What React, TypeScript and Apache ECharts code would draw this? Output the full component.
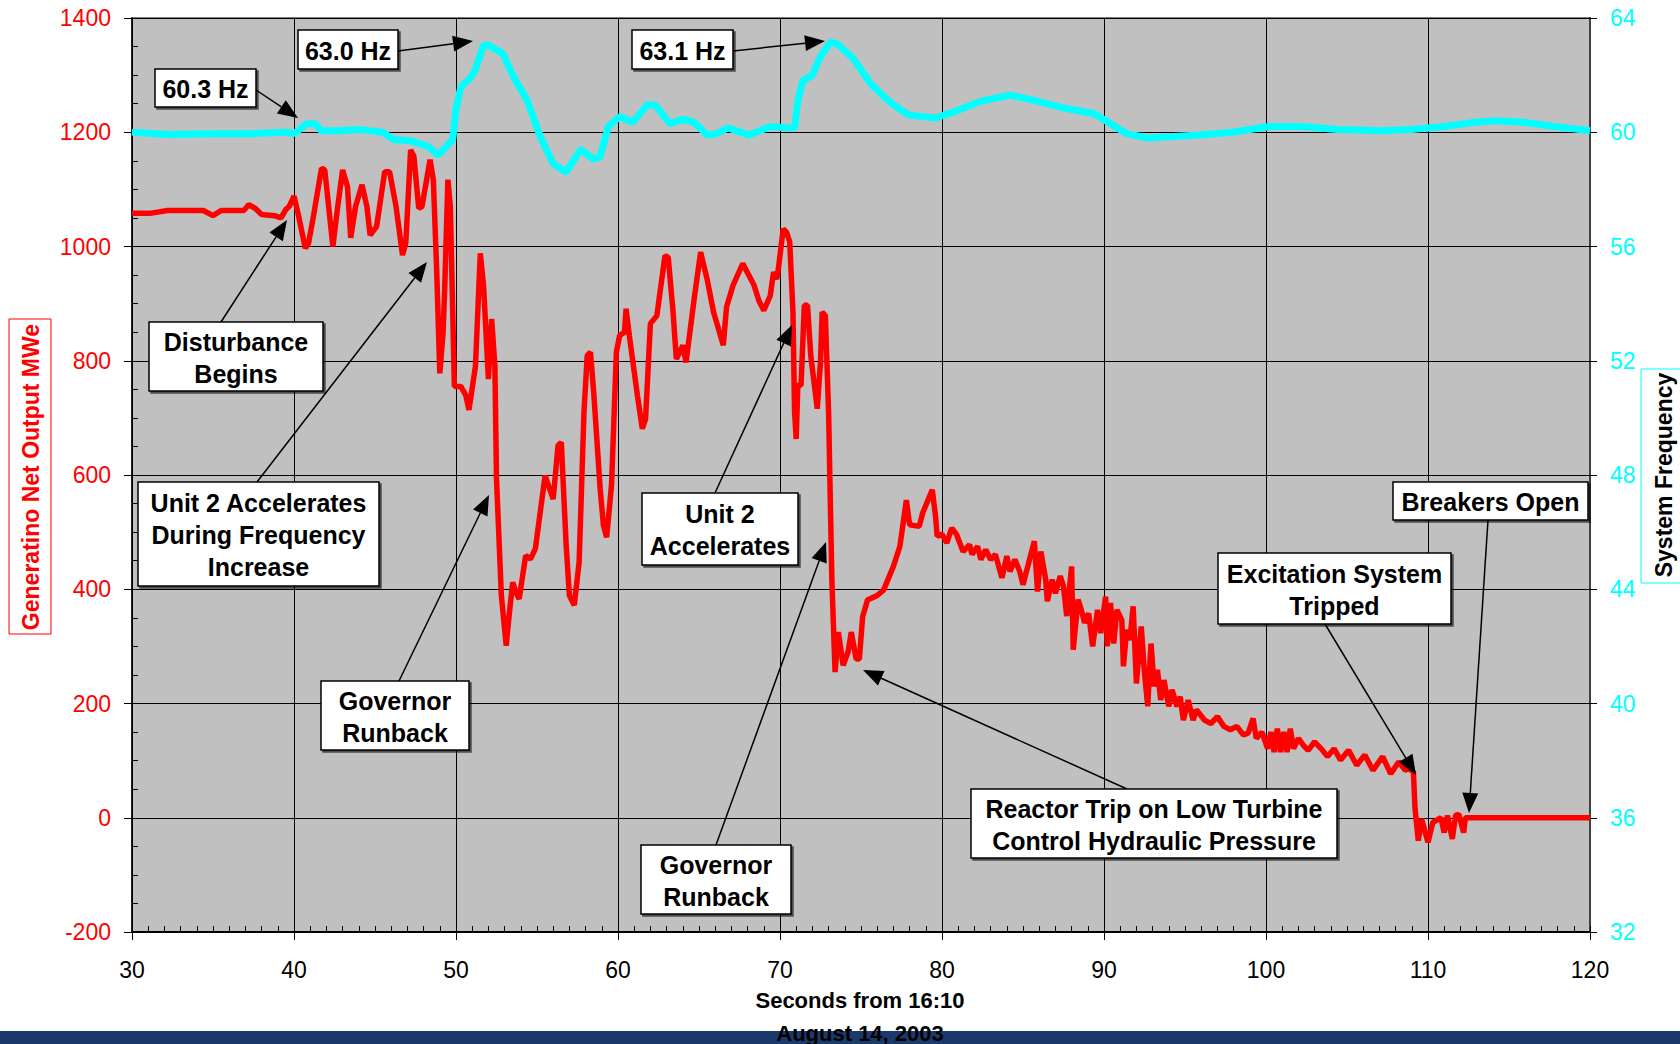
import React, { useEffect, useRef } from "react";
import * as echarts from "echarts";

// ---------- data ----------
// Generator net output, MWe : [seconds from 16:10, MWe]
const outputBeforeSwing: [number, number][] = [
  [30.0, 1058], [31.1, 1058], [32.2, 1063], [34.4, 1063], [35.0, 1054], [35.5, 1063], [36.9, 1063],
  [37.2, 1073], [37.6, 1067], [38.0, 1056], [38.8, 1054], [39.2, 1050], [39.5, 1065], [39.7, 1070],
  [40.0, 1088], [40.25, 1058], [40.7, 997], [40.9, 1006], [41.2, 1053], [41.7, 1137], [41.9, 1134],
  [42.4, 1000], [42.7, 1070], [43.0, 1134], [43.3, 1105], [43.5, 1015], [43.8, 1070], [44.2, 1108],
  [44.5, 1070], [44.7, 1020], [45.1, 1035], [45.6, 1131], [45.9, 1131], [46.3, 1070], [46.7, 985],
  [46.9, 1006], [47.2, 1169], [47.4, 1158], [47.7, 1067], [47.9, 1070], [48.4, 1152], [48.6, 1117],
  [48.8, 965], [49.0, 778], [49.2, 848], [49.3, 924], [49.5, 1117], [49.65, 1070], [49.8, 883],
  [49.9, 755], [50.3, 755], [50.6, 740], [50.8, 714], [51.2, 790], [51.5, 988], [51.7, 932],
  [52.0, 768], [52.2, 873], [52.4, 792],
];
const outputSwing: [number, number][] = [
  [52.5, 593], [52.8, 389], [53.1, 301], [53.3, 360], [53.5, 412], [53.7, 395], [53.9, 383],
  [54.3, 459], [54.6, 453], [54.9, 471], [55.2, 535], [55.5, 599], [55.7, 582], [56.0, 558],
  [56.3, 652], [56.5, 657], [56.8, 477], [57.0, 389], [57.3, 372], [57.6, 447], [57.9, 710],
  [58.1, 809], [58.3, 815], [58.5, 745], [58.9, 576], [59.1, 512], [59.3, 491], [59.6, 582],
  [59.9, 815], [60.1, 844], [60.4, 850], [60.5, 891], [60.7, 844], [61.2, 739], [61.5, 681],
  [61.7, 698], [62.0, 865], [62.4, 879], [62.9, 984], [63.1, 981], [63.4, 885], [63.6, 803],
  [64.0, 827], [64.2, 797], [64.7, 908], [65.1, 990], [65.5, 943], [65.9, 885], [66.5, 827],
  [66.7, 894], [67.1, 932], [67.7, 970], [68.4, 932], [68.7, 905], [69.0, 888], [69.4, 914],
  [69.6, 955], [69.8, 943], [69.9, 961], [70.2, 1031], [70.4, 1025], [70.6, 1008], [70.8, 885],
  [70.9, 710], [71.0, 663], [71.1, 757], [71.3, 757], [71.5, 897], [71.7, 897], [71.9, 809],
  [72.3, 716], [72.5, 798], [72.6, 885], [72.8, 879], [73.0, 710],
];
const outputAfterTrip: [number, number][] = [
  [73.2, 418], [73.3, 336], [73.4, 255], [73.6, 325], [73.9, 267], [74.2, 290], [74.4, 325],
  [74.7, 278], [74.9, 278], [75.1, 352], [75.4, 381], [76.0, 389], [76.4, 399], [77.0, 440],
  [77.4, 475], [77.8, 556], [78.0, 513], [78.6, 510], [78.8, 533], [79.4, 574], [79.6, 528],
  [79.7, 493], [80.0, 496], [80.3, 481], [80.6, 507], [80.9, 496], [81.3, 466], [81.7, 478],
  [81.85, 461], [82.2, 475], [82.4, 452], [82.7, 469], [83.0, 452], [83.3, 461], [83.5, 440],
  [83.7, 420], [84.0, 458], [84.2, 431], [84.5, 452], [84.8, 431], [85.0, 408], [85.35, 446],
  [85.7, 484], [85.9, 396], [86.1, 466], [86.4, 417], [86.5, 379], [86.8, 417], [87.0, 393],
  [87.3, 423], [87.5, 405], [87.7, 353], [88.0, 440], [88.1, 294], [88.4, 382], [88.6, 364],
  [88.8, 341], [89.05, 358], [89.3, 300], [89.6, 364], [89.8, 323], [90.1, 387], [90.2, 300],
  [90.4, 376], [90.6, 305], [90.8, 364], [91.1, 346], [91.2, 265], [91.4, 329], [91.6, 311],
  [91.8, 370], [92.0, 235], [92.3, 335], [92.5, 253], [92.7, 195], [92.9, 305], [93.1, 230],
  [93.3, 259], [93.5, 206], [93.7, 241], [94.0, 195], [94.2, 224], [94.5, 195], [94.7, 212],
  [94.9, 171], [95.2, 206], [95.5, 171], [95.7, 189], [96.2, 171], [96.6, 165], [97.0, 177],
  [97.4, 160], [97.8, 154], [98.2, 160], [98.6, 145], [98.9, 148], [99.2, 174], [99.4, 139],
  [99.75, 150], [100.1, 121], [100.3, 150], [100.5, 115], [100.7, 156], [100.9, 115], [101.1, 150],
  [101.3, 115], [101.5, 156], [101.7, 121], [102.0, 139], [102.3, 127], [102.6, 118], [103.0, 133],
  [103.4, 121], [103.8, 107], [104.2, 121], [104.6, 101], [105.1, 118], [105.6, 92], [106.1, 110],
  [106.6, 83], [107.2, 107], [107.7, 77], [108.2, 98], [108.6, 83], [108.8, 86], [109.1, 80],
];
const outputBreakers: [number, number][] = [
  [109.2, 16], [109.4, -40], [109.6, -2], [110.0, -43], [110.3, -8], [110.8, 0], [111.0, -26],
  [111.2, 4], [111.5, -37], [111.7, 4], [111.9, 6], [112.2, -26], [112.3, 0], [120.0, 0],
];

// System frequency, Hz : [seconds from 16:10, Hz]
const systemFrequency: [number, number][] = [
  [30.0, 60.0], [32.2, 59.92], [35.1, 59.95], [37.3, 59.95], [39.5, 60.0], [40.0, 59.95],
  [40.8, 60.3], [41.3, 60.3], [41.7, 60.05], [42.8, 60.05], [43.9, 60.1], [45.5, 60.0],
  [46.1, 59.75], [47.2, 59.7], [48.3, 59.5], [48.9, 59.2], [49.4, 59.5], [49.8, 59.75],
  [50.0, 60.8], [50.3, 61.6], [50.9, 61.9], [51.2, 62.2], [51.7, 63.05], [52.0, 63.05],
  [52.9, 62.75], [53.5, 62.0], [54.4, 61.1], [55.2, 59.85], [56.0, 58.9], [56.8, 58.6],
  [57.7, 59.4], [58.5, 59.05], [58.9, 59.15], [59.4, 60.2], [60.1, 60.55], [60.9, 60.35],
  [61.8, 60.95], [62.3, 60.95], [63.2, 60.3], [64.0, 60.45], [64.7, 60.35], [65.5, 59.9],
  [66.1, 59.95], [66.8, 60.15], [68.1, 59.9], [69.4, 60.2], [70.6, 60.15], [70.9, 60.15],
  [71.1, 61.1], [71.4, 61.8], [72.0, 62.0], [72.5, 62.65], [73.1, 63.15], [73.5, 63.1],
  [74.5, 62.6], [75.6, 61.7], [76.6, 61.15], [77.4, 60.8], [78.0, 60.6], [79.6, 60.5],
  [80.9, 60.75], [82.5, 61.1], [84.2, 61.3], [85.8, 61.1], [87.5, 60.85], [89.4, 60.65],
  [90.1, 60.4], [91.4, 59.95], [92.7, 59.8], [94.3, 59.85], [95.9, 59.9], [97.9, 60.0],
  [100.2, 60.2], [102.2, 60.2], [104.4, 60.1], [107.1, 60.05], [109.0, 60.1], [111.0, 60.2],
  [112.9, 60.35], [114.2, 60.4], [115.9, 60.35], [117.8, 60.2], [120.0, 60.05],
];

// axes
const timeRange = [30, 120];
const mweRange = [-200, 1400];
const hzRange = [32, 64];

// annotations (layout in page pixels)
type Note = { lines: string[]; box: [number, number, number, number]; from: [number, number]; to: [number, number] };
const notes: Note[] = [
  { lines: ["60.3 Hz"], box: [155, 69, 256, 107], from: [256, 90], to: [298, 118] },
  { lines: ["63.0 Hz"], box: [298, 30, 398, 69], from: [398, 51], to: [473, 41] },
  { lines: ["63.1 Hz"], box: [632, 30, 733, 69], from: [733, 51], to: [825, 41] },
  { lines: ["Disturbance", "Begins"], box: [149, 322, 323, 391], from: [221, 322], to: [287, 220] },
  { lines: ["Unit 2 Accelerates", "During Frequency", "Increase"], box: [138, 482, 379, 586], from: [257, 482], to: [427, 262] },
  { lines: ["Governor", "Runback"], box: [321, 681, 469, 750], from: [399, 681], to: [489, 495] },
  { lines: ["Unit 2", "Accelerates"], box: [642, 493, 798, 565], from: [715, 493], to: [792, 325] },
  { lines: ["Governor", "Runback"], box: [641, 845, 791, 914], from: [716, 845], to: [826, 542] },
  { lines: ["Reactor Trip on Low Turbine", "Control Hydraulic Pressure"], box: [971, 789, 1337, 858], from: [1127, 789], to: [863, 670] },
  { lines: ["Excitation System", "Tripped"], box: [1218, 553, 1451, 624], from: [1325, 624], to: [1416, 775] },
  { lines: ["Breakers Open"], box: [1393, 482, 1588, 520], from: [1488, 520], to: [1469, 813] },
];

const FONT = "'Liberation Sans', Arial, Helvetica, sans-serif";

function arrow(from: [number, number], to: [number, number]) {
  const dx = to[0] - from[0];
  const dy = to[1] - from[1];
  const len = Math.hypot(dx, dy);
  const ux = dx / len;
  const uy = dy / len;
  const headLen = 20;
  const headW = 8;
  const bx = to[0] - ux * headLen;
  const by = to[1] - uy * headLen;
  const px = -uy;
  const py = ux;
  return [
    {
      type: "line",
      z: 100,
      shape: { x1: from[0], y1: from[1], x2: bx, y2: by },
      style: { stroke: "#000", lineWidth: 1.5 },
    },
    {
      type: "polygon",
      z: 100,
      shape: {
        points: [
          [to[0], to[1]],
          [bx + px * headW, by + py * headW],
          [bx - px * headW, by - py * headW],
        ],
      },
      style: { fill: "#000" },
    },
  ];
}

function noteGraphics(n: Note) {
  const [x1, y1, x2, y2] = n.box;
  return [
    ...arrow(n.from, n.to),
    {
      type: "rect",
      z: 101,
      shape: { x: x1, y: y1, width: x2 - x1, height: y2 - y1 },
      style: {
        fill: "#ffffff",
        stroke: "#000",
        lineWidth: 1.5,
        shadowColor: "rgba(0,0,0,0.6)",
        shadowOffsetX: 2,
        shadowOffsetY: 2,
        shadowBlur: 0,
      },
    },
    {
      type: "text",
      z: 102,
      x: (x1 + x2) / 2,
      y: (y1 + y2) / 2 + 1,
      style: {
        text: n.lines.join("\n"),
        fill: "#000",
        fontSize: 25,
        fontWeight: "bold",
        fontFamily: FONT,
        align: "center",
        verticalAlign: "middle",
        lineHeight: 32,
      },
    },
  ];
}

export default function App() {
  const ref = useRef<HTMLDivElement>(null);

  useEffect(() => {
    if (!ref.current) return;
    const chart = echarts.init(ref.current, undefined, { renderer: "svg" });

    const graphics: any[] = [
      // left axis title
      {
        type: "rect",
        z: 50,
        shape: { x: 9, y: 319, width: 42, height: 315 },
        style: { fill: "#fff", stroke: "#ff0000", lineWidth: 1 },
      },
      {
        type: "text",
        z: 51,
        x: 31,
        y: 477,
        rotation: Math.PI / 2,
        style: {
          text: "Generatino Net Output MWe",
          fill: "#ff0000",
          fontSize: 23,
          fontWeight: "bold",
          fontFamily: FONT,
          align: "center",
          verticalAlign: "middle",
        },
      },
      // right axis title
      {
        type: "rect",
        z: 50,
        shape: { x: 1641, y: 369, width: 60, height: 214 },
        style: { fill: "#fff", stroke: "#00ffff", lineWidth: 1 },
      },
      {
        type: "text",
        z: 51,
        x: 1664,
        y: 475,
        rotation: Math.PI / 2,
        style: {
          text: "System Frequency",
          fill: "#000",
          fontSize: 23,
          fontWeight: "bold",
          fontFamily: FONT,
          align: "center",
          verticalAlign: "middle",
        },
      },
      // bottom band
      {
        type: "rect",
        z: 40,
        shape: { x: 0, y: 1031, width: 1680, height: 13 },
        style: { fill: "#1b3a6b" },
      },
      // x-axis title
      {
        type: "text",
        z: 51,
        x: 860,
        y: 1000,
        style: {
          text: "Seconds from 16:10",
          fill: "#000",
          fontSize: 22,
          fontWeight: "bold",
          fontFamily: FONT,
          align: "center",
          verticalAlign: "middle",
        },
      },
      {
        type: "text",
        z: 51,
        x: 860,
        y: 1033,
        style: {
          text: "August 14, 2003",
          fill: "#000",
          fontSize: 22,
          fontWeight: "bold",
          fontFamily: FONT,
          align: "center",
          verticalAlign: "middle",
        },
      },
      ...notes.flatMap(noteGraphics),
    ];

    const plain = (v: number) => String(v);

    const option: any = {
      animation: false,
      backgroundColor: "#ffffff",
      textStyle: { fontFamily: FONT },
      grid: {
        left: 132,
        top: 18,
        width: 1458,
        height: 914,
        show: true,
        backgroundColor: "#c0c0c0",
        borderColor: "#7f7f7f",
        borderWidth: 2,
      },
      xAxis: [
        {
          type: "value",
          position: "bottom",
          min: timeRange[0],
          max: timeRange[1],
          interval: 10,
          axisLine: { show: true, onZero: false, lineStyle: { color: "#000", width: 2 } },
          axisTick: { show: true, inside: false, length: 8, lineStyle: { color: "#000", width: 1 } },
          axisLabel: { color: "#000", fontSize: 23, fontFamily: FONT, margin: 26, formatter: plain },
          splitLine: { show: true, lineStyle: { color: "#000", width: 1 } },
        },
        {
          type: "value",
          position: "bottom",
          min: timeRange[0],
          max: timeRange[1],
          interval: 1,
          axisLine: { show: false, onZero: false },
          axisTick: { show: true, inside: true, length: 6, lineStyle: { color: "#000", width: 1 } },
          axisLabel: { show: false },
          splitLine: { show: false },
        },
      ],
      yAxis: [
        {
          type: "value",
          position: "left",
          min: mweRange[0],
          max: mweRange[1],
          interval: 200,
          axisLine: { show: true, onZero: false, lineStyle: { color: "#000", width: 1.5 } },
          axisTick: { show: true, inside: false, length: 8, lineStyle: { color: "#000", width: 1 } },
          axisLabel: { color: "#ff0000", fontSize: 23, fontFamily: FONT, margin: 21, formatter: plain },
          splitLine: { show: true, lineStyle: { color: "#000", width: 1 } },
        },
        {
          type: "value",
          position: "right",
          min: hzRange[0],
          max: hzRange[1],
          interval: 4,
          axisLine: { show: true, onZero: false, lineStyle: { color: "#404040", width: 2 } },
          axisTick: { show: true, inside: false, length: 7, lineStyle: { color: "#000", width: 1 } },
          axisLabel: { color: "#00ffff", fontSize: 23, fontFamily: FONT, margin: 20, formatter: plain },
          splitLine: { show: false },
        },
        {
          type: "value",
          position: "left",
          min: mweRange[0],
          max: mweRange[1],
          interval: 50,
          axisLine: { show: false, onZero: false },
          axisTick: { show: true, inside: true, length: 6, lineStyle: { color: "#000", width: 1 } },
          axisLabel: { show: false },
          splitLine: { show: false },
        },
        {
          type: "value",
          position: "right",
          min: hzRange[0],
          max: hzRange[1],
          interval: 4,
          axisLine: { show: false, onZero: false },
          axisTick: { show: true, inside: true, length: 7, lineStyle: { color: "#000", width: 1 } },
          axisLabel: { show: false },
          splitLine: { show: false },
        },
      ],
      series: [
        {
          name: "System Frequency",
          type: "line",
          xAxisIndex: 0,
          yAxisIndex: 1,
          data: systemFrequency,
          showSymbol: false,
          smooth: false,
          z: 3,
          lineStyle: { color: "#00ffff", width: 7 },
        },
        {
          name: "Generator Net Output MWe",
          type: "line",
          xAxisIndex: 0,
          yAxisIndex: 0,
          data: [...outputBeforeSwing, ...outputSwing, ...outputAfterTrip, ...outputBreakers],
          showSymbol: false,
          smooth: false,
          z: 4,
          lineStyle: { color: "#ff0000", width: 5.5 },
        },
      ],
      graphic: graphics,
    };

    chart.setOption(option);
    return () => chart.dispose();
  }, []);

  return (
    <div
      ref={ref}
      style={{ position: "absolute", left: 0, top: 0, width: 1680, height: 1044, background: "#fff" }}
    />
  );
}
